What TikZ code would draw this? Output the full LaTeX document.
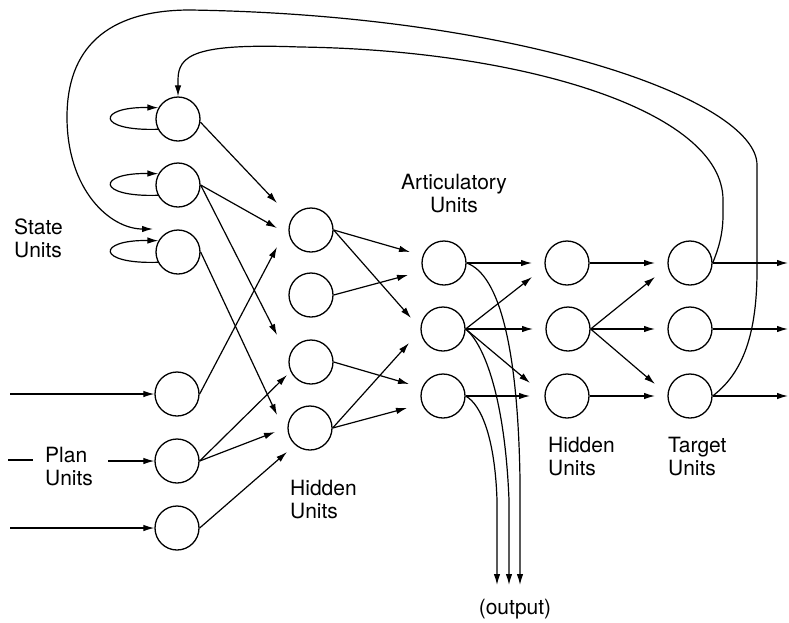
\documentclass[tikz,border=0pt]{standalone}
\usepackage{fontspec}
\setmainfont{TeX Gyre Heros}
\usetikzlibrary{arrows.meta}
\begin{document}
\begin{tikzpicture}[x=1pt,y=-1pt,
  unit/.style={circle,draw,line width=1.3pt,minimum size=44pt,inner sep=0pt},
  conn/.style={line width=1.2pt,-{Latex[length=11pt,width=6.5pt]}},
  wire/.style={line width=1.2pt},
  lbl/.style={font=\fontsize{21}{23}\selectfont,inner sep=0pt,align=left,anchor=west},
]
\useasboundingbox (0,0) rectangle (789,622);
% units
\node[unit] (S1) at (178,119) {};
\node[unit] (S2) at (178,185) {};
\node[unit] (S3) at (178,252) {};
\node[unit] (P1) at (177,394) {};
\node[unit] (P2) at (177,461) {};
\node[unit] (P3) at (177,528) {};
\node[unit] (H1) at (311,230) {};
\node[unit] (H2) at (311,295) {};
\node[unit] (H3) at (311,362) {};
\node[unit] (H4) at (310,428) {};
\node[unit] (A1) at (444,263) {};
\node[unit] (A2) at (443,329) {};
\node[unit] (A3) at (443,396) {};
\node[unit] (R1) at (567,263) {};
\node[unit] (R2) at (568,329) {};
\node[unit] (R3) at (567,396) {};
\node[unit] (T1) at (690,263) {};
\node[unit] (T2) at (690,329) {};
\node[unit] (T3) at (690,396) {};
% labels
\node[lbl] (lstate) at (14,238) {State\\Units};
\node[lbl,align=center,anchor=center] (lart) at (454,194) {Articulatory\\Units};
\node[lbl] (lplan) at (45,467) {Plan\\Units};
\node[lbl] (lhid1) at (290,500) {Hidden\\Units};
\node[lbl] (lhid2) at (548,457) {Hidden\\Units};
\node[lbl] (ltarget) at (668,457) {Target\\Units};
\node[lbl,anchor=center] (lout) at (515,609) {(output)};
% free ends
\coordinate (in1) at (10,394);
\coordinate (in2a) at (8,460);
\coordinate (in2b) at (33,460);
\coordinate (in2) at (108,461);
\coordinate (in3) at (10,528);
\coordinate (o1) at (788,263);
\coordinate (o2) at (788,329);
\coordinate (o3) at (788,396);
\coordinate (out1) at (520,585);
\coordinate (out2) at (509,585);
\coordinate (out3) at (497,585);
\coordinate (fbS3) at (153,229);
% self loops
\foreach \s in {S1,S2,S3}
  \draw[conn] (\s.207) .. controls +(-62,2) and +(-62,-1) .. (\s.150);
% inputs
\draw[conn] (in1) -- (P1.west);
\draw[wire] (in2a) -- (in2b);
\draw[conn] (in2) -- (P2.west);
\draw[conn] (in3) -- (P3.west);
% state/plan -> hidden
\draw[conn] (S1.-8) -- ([shift={(-34,-27)}]H1.center);
\draw[conn] (S2.east) -- ([shift={(-34,-2)}]H1.center);
\draw[conn] (S2.east) -- ([shift={(-34,-27)}]H3.center);
\draw[conn] (S3.east) -- ([shift={(-33,-13)}]H4.center);
\draw[conn] (P1.east) -- ([shift={(-34,17)}]H1.center);
\draw[conn] (P2.east) -- ([shift={(-24,13)}]H3.center);
\draw[conn] (P2.east) -- ([shift={(-35,4)}]H4.center);
\draw[conn] (P3.east) -- ([shift={(-23,24)}]H4.center);
% hidden -> articulatory
\draw[conn] (H1.east) -- ([shift={(-34,-11)}]A1.center);
\draw[conn] (H1.east) -- ([shift={(-32,-11)}]A2.center);
\draw[conn] (H2.east) -- ([shift={(-36,12)}]A1.center);
\draw[conn] (H3.east) -- ([shift={(-34,-12)}]A3.center);
\draw[conn] (H4.east) -- ([shift={(-34,14)}]A2.center);
\draw[conn] (H4.east) -- ([shift={(-36,12)}]A3.center);
% articulatory -> hidden
\draw[conn] (A1.east) -- ([shift={(-35,0)}]R1.center);
\draw[conn] (A2.east) -- ([shift={(-35,14)}]R1.center);
\draw[conn] (A2.east) -- ([shift={(-35,0)}]R2.center);
\draw[conn] (A2.east) -- ([shift={(-37,-13)}]R3.center);
\draw[conn] (A3.east) -- ([shift={(-37,0)}]R3.center);
% hidden -> target
\draw[conn] (R1.east) -- ([shift={(-35,0)}]T1.center);
\draw[conn] (R2.east) -- ([shift={(-35,14)}]T1.center);
\draw[conn] (R2.east) -- ([shift={(-35,0)}]T2.center);
\draw[conn] (R2.east) -- ([shift={(-35,-12)}]T3.center);
\draw[conn] (R3.east) -- ([shift={(-35,0)}]T3.center);
% target outputs
\draw[conn] (T1.east) -- (o1);
\draw[conn] (T2.east) -- (o2);
\draw[conn] (T3.east) -- (o3);
% articulatory outputs
\draw[conn] (A1.east) .. controls (500,275) and (518,350) .. (520,480) -- (out1);
\draw[conn] (A2.east) .. controls (485,345) and (505,400) .. (509,500) -- (out2);
\draw[conn] (A3.east) .. controls (482,405) and (495,440) .. (497,500) -- (out3);
% feedback
\draw[conn] (T3.east) .. controls (740,375) and (757,340) .. (757,270) -- (757,165)
  .. controls (757,100) and (520,15) .. (190,10)
  .. controls (105,10) and (67,50) .. (67,117)
  .. controls (67,190) and (110,229) .. (fbS3);
\draw[conn] (T1.east) .. controls (718,250) and (723,235) .. (723,215) -- (723,200)
  .. controls (723,110) and (520,50) .. (300,47)
  .. controls (195,43) and (178,55) .. (178,80) -- (S1.north);
\end{tikzpicture}
\end{document}
